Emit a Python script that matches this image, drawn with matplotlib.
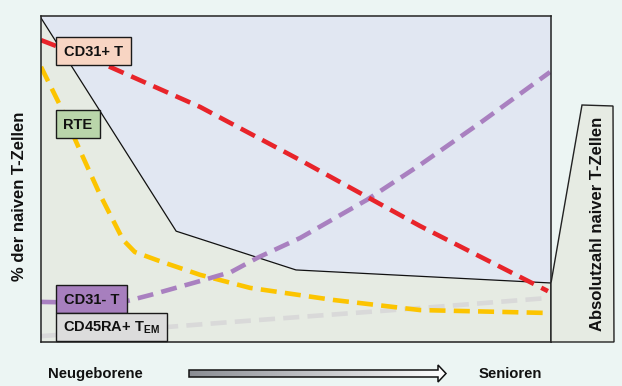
import matplotlib
matplotlib.use("Agg")
import matplotlib.pyplot as plt
import numpy as np
from matplotlib.patches import Polygon, Rectangle

plt.rcParams['font.family'] = ['Liberation Sans', 'DejaVu Sans']
plt.rcParams['mathtext.fontset'] = 'custom'
plt.rcParams['mathtext.rm'] = 'Liberation Sans:bold'

# age axis (0 = newborn, 100 = senior), y = % of naive T cells
red_x = [0, 13.5, 31.2, 50.8, 74.3, 99.4]
red_y = [92.6, 84.4, 72.1, 55.8, 35.6, 15.6]

yel_x = [0, 3.7, 7.6, 11.6, 16.1, 18.4, 23.3, 31.2, 41.0, 57.3, 74.3, 99.4]
yel_y = [84.4, 72.7, 58.9, 45.1, 31.3, 27.6, 24.8, 20.6, 16.6, 12.9, 9.8, 8.9]

pur_x = [0, 9.6, 16.7, 21.4, 31.2, 37.3, 42.4, 50.8, 63.9, 74.3, 86.1, 99.8]
pur_y = [12.3, 12.0, 12.5, 14.4, 18.7, 21.5, 25.8, 31.9, 43.6, 54.3, 67.2, 82.8]

gry_x = [0, 24.7, 37.1, 74.3, 99.4]
gry_y = [1.8, 4.6, 6.1, 10.4, 13.5]

# absolute number of naive T cells
abs_x = [0, 26.5, 50, 100]
abs_y = [99.4, 34.0, 22.1, 18.1]

labels = ["CD31+ T", "RTE", "CD31- T", r"CD45RA+ T$_{\mathrm{EM}}$"]
label_colors = ["#f8d5c3", "#b9d5aa", "#a77fbe", "#dcdcdc"]

bg = "#ecf5f3"
fig = plt.figure(figsize=(6.22, 3.86), dpi=100, facecolor=bg)

ax = fig.add_axes([41 / 622, 44 / 386, 510 / 622, 326 / 386])
ax.set_xlim(0, 100)
ax.set_ylim(0, 100)
ax.set_xticks([])
ax.set_yticks([])
for s in ax.spines.values():
    s.set_color("#222222")
    s.set_linewidth(1.1)

ax.fill_between(abs_x, abs_y, 100, color="#e1e7f2", lw=0)
ax.fill_between(abs_x, 0, abs_y, color="#e6ebe3", lw=0)
ax.plot(abs_x, abs_y, color="#111111", lw=0.9)

dash = (0, (3.5, 1.8))
ax.plot(gry_x, gry_y, color="#d9d9d9", lw=3.3, ls=dash)
ax.plot(yel_x, yel_y, color="#fcc400", lw=3.3, ls=dash)
ax.plot(pur_x, pur_y, color="#a980c0", lw=3.3, ls=dash)
ax.plot(red_x, red_y, color="#e8242a", lw=3.3, ls=dash)

# overlay in pixel coordinates for the decorations
ov = fig.add_axes([0, 0, 1, 1], zorder=3)
ov.set_xlim(0, 622)
ov.set_ylim(386, 0)
ov.axis("off")

# label boxes
boxes = [(56, 37, 75, 28), (56, 110, 44, 28), (56, 285, 71, 28), (56, 313, 111, 28)]
for (bx, by, bw, bh), txt, c in zip(boxes, labels, label_colors):
    ov.add_patch(Rectangle((bx, by), bw, bh, facecolor=c, edgecolor="#1a1a1a", lw=1))
    ov.text(bx + bw / 2, by + bh / 2 + 1, txt, ha="center", va="center",
            fontsize=10.5, fontweight="bold", color="#111111")

# trapezoid on the right
trap = Polygon([(551, 342), (551, 283), (582, 105), (613, 106), (614, 342)],
               closed=True, facecolor="#e6ebe3", edgecolor="#222222", lw=1)
ov.add_patch(trap)
ov.text(598, 224, "Absolutzahl naiver T-Zellen", rotation=90, ha="center", va="center",
        fontsize=12, fontweight="bold", color="#111111")

ov.text(20, 196, "% der naiven T-Zellen", rotation=90, ha="center", va="center",
        fontsize=12, fontweight="bold", color="#111111")

ov.text(48, 374, "Neugeborene", ha="left", va="center", fontsize=10.7,
        fontweight="bold", color="#111111")
ov.text(479, 374, "Senioren", ha="left", va="center", fontsize=10.7,
        fontweight="bold", color="#111111")

# gradient arrow
arrow = Polygon([(189, 370), (438, 370), (438, 365), (446, 373.5), (438, 382),
                 (438, 377), (189, 377)], closed=True, facecolor="none",
                edgecolor="#111111", lw=1.1)
grad = np.linspace(0, 1, 256).reshape(1, -1)
im = ov.imshow(grad, extent=(189, 446, 382, 365), cmap=plt.matplotlib.colors.LinearSegmentedColormap.from_list("g", ["#8a8d93", "#ffffff"]),
               aspect="auto", interpolation="bilinear")
ov.add_patch(arrow)
im.set_clip_path(arrow)
ov.set_xlim(0, 622)
ov.set_ylim(386, 0)

fig.savefig("out.png", dpi=100, facecolor=bg)
